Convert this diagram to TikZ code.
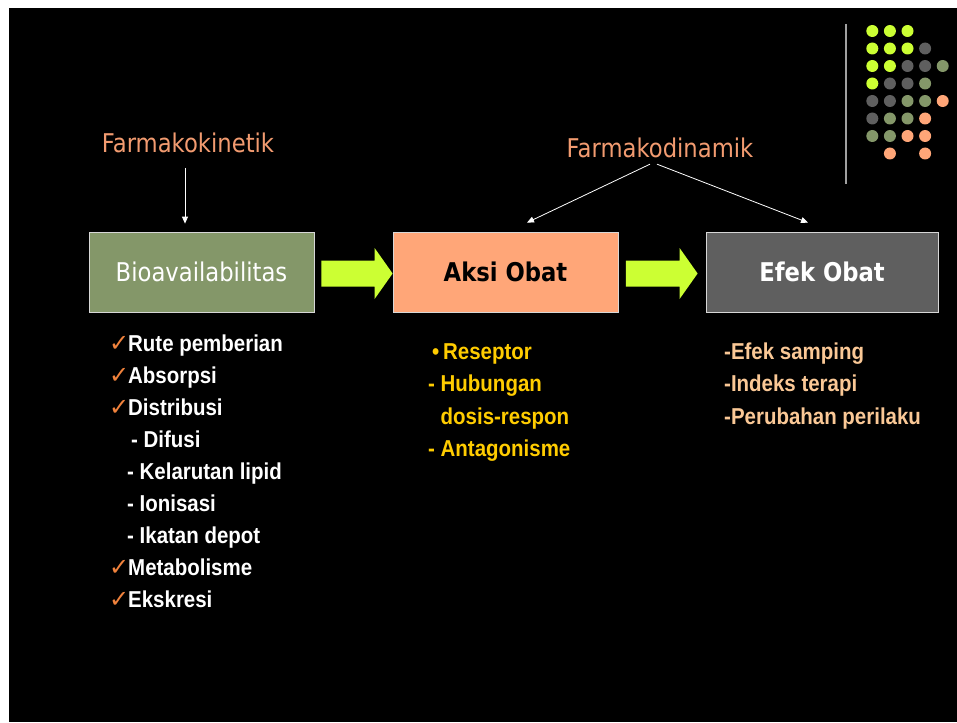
\documentclass[tikz,border=0pt]{standalone}
\usepackage{fontspec}
\setmainfont{Liberation Sans}
\newfontfamily\boxfont[FakeStretch=0.88]{DejaVu Sans}
\newfontfamily\listfont[FakeStretch=0.89]{Liberation Sans}
\newfontfamily\symfont{DejaVu Sans}
\usetikzlibrary{arrows.meta,calc}
\definecolor{limec}{RGB}{204,255,51}
\definecolor{olivec}{RGB}{132,151,105}
\definecolor{salmonc}{RGB}{255,166,120}
\definecolor{darkc}{RGB}{95,95,95}
\definecolor{titlec}{RGB}{242,155,112}
\definecolor{checkc}{RGB}{240,130,60}
\definecolor{goldc}{RGB}{255,204,0}
\definecolor{peachc}{RGB}{250,200,150}
\definecolor{boxline}{RGB}{215,215,215}
\definecolor{rulec}{RGB}{160,160,160}
\begin{document}
\begin{tikzpicture}[x=1pt,y=-1pt,
  bx/.style={draw=boxline, line width=0.8pt, minimum height=80pt, inner sep=0pt,
    font=\boxfont\fontsize{25.8}{30}\selectfont},
  ttl/.style={text=titlec, inner sep=0pt, font=\boxfont\fontsize{25.8}{30}\selectfont},
  lst/.style={anchor=base west, inner sep=0pt, text=white,
    font=\listfont\bfseries\fontsize{23}{27}\selectfont},
  mid/.style={lst, text=goldc},
  rgt/.style={lst, text=peachc},
  chk/.style={anchor=base west, inner sep=0pt, text=checkc,
    font=\symfont\fontsize{24}{28}\selectfont},
  thin/.style={draw=white, line width=0.8pt, -{Triangle[length=7pt,width=6pt]}},
  blk/.style={fill=limec, draw=none},
  dotL/.style={fill=limec}, dotD/.style={fill=darkc},
  dotG/.style={fill=olivec}, dotO/.style={fill=salmonc}
]
\useasboundingbox (0,0) rectangle (957,722);
\fill[white] (0,0) rectangle (957,722);
\fill[black] (9,8) rectangle (957,722);

% decorative rule and dots
\draw[rulec, line width=1.5pt] (846,24) -- (846,184);
\foreach \row/\cols in {0/{L,L,L,N,N},1/{L,L,L,D,N},2/{L,L,D,D,G},3/{L,D,D,G,N},
  4/{D,D,G,G,O},5/{D,G,G,O,N},6/{G,G,O,O,N},7/{N,O,N,O,N}}{
  \foreach \c [count=\i from 0] in \cols {
    \if N\c\else
      \fill[dot\c] ({872.3+17.6*\i},{31+17.5*\row}) circle (6);
    \fi
  }
}

% boxes
\node[bx, fill=olivec, text=white, minimum width=225pt] (bio) at (201.5,272) {Bioavailabilitas};
\node[bx, fill=salmonc, text=black, minimum width=225pt, font=\boxfont\bfseries\fontsize{25.8}{30}\selectfont] (aksi) at (505.5,272) {Aksi Obat};
\node[bx, fill=darkc, text=white, minimum width=232pt, font=\boxfont\bfseries\fontsize{25.8}{30}\selectfont] (efek) at (822,272) {Efek Obat};

% block arrows
\fill[blk] ($(bio.east)+(7,-11.5)$) -- ($(aksi.west)+(-18,-11.5)$) -- ($(aksi.west)+(-18,-24)$)
  -- ($(aksi.west)+(0,1.5)$) -- ($(aksi.west)+(-18,27)$) -- ($(aksi.west)+(-18,14.5)$)
  -- ($(bio.east)+(7,14.5)$) -- cycle;
\fill[blk] ($(aksi.east)+(7.5,-11.5)$) -- ($(efek.west)+(-26,-11.5)$) -- ($(efek.west)+(-26,-24)$)
  -- ($(efek.west)+(-8,1.5)$) -- ($(efek.west)+(-26,27)$) -- ($(efek.west)+(-26,14.5)$)
  -- ($(aksi.east)+(7.5,14.5)$) -- cycle;

% titles
\node[ttl] (fk) at (188,143) {Farmakokinetik};
\node[ttl] (fd) at (660,148) {Farmakodinamik};
\coordinate (fks) at (185,168);
\draw[thin] (fks) -- (fks |- {$(bio.north)+(0,-8)$});
\draw[thin] ($(fd.south)+(-10,6)$) -- ($(aksi.north)+(21.5,-9)$);
\draw[thin] ($(fd.south)+(-3,6)$) -- ($(efek.north)+(-14,-9)$);

% left list
\node[chk] (c1) at (109,351) {✓};
\node[lst] (l1) at (128,351) {Rute pemberian};
\node[chk] (c2) at (109,383) {✓};
\node[lst] (l2) at (128,383) {Absorpsi};
\node[chk] (c3) at (109,415) {✓};
\node[lst] (l3) at (128,415) {Distribusi};
\node[lst] (l4) at (131,447) {- Difusi};
\node[lst] (l5) at (127,479) {- Kelarutan lipid};
\node[lst] (l6) at (127,511) {- Ionisasi};
\node[lst] (l7) at (127,543) {- Ikatan depot};
\node[chk] (c8) at (109,575) {✓};
\node[lst] (l8) at (128,575) {Metabolisme};
\node[chk] (c9) at (109,607) {✓};
\node[lst] (l9) at (128,607) {Ekskresi};

% middle list
\node[mid] (m1) at (432,359) {\textbullet\,Reseptor};
\node[mid] (m2) at (428,391.5) {- Hubungan};
\node[mid] (m3) at (440.5,424) {dosis-respon};
\node[mid] (m4) at (428,456) {- Antagonisme};

% right list
\node[rgt] (r1) at (724,359) {-Efek samping};
\node[rgt] (r2) at (724,391.5) {-Indeks terapi};
\node[rgt] (r3) at (724,424) {-Perubahan perilaku};
\end{tikzpicture}
\end{document}
